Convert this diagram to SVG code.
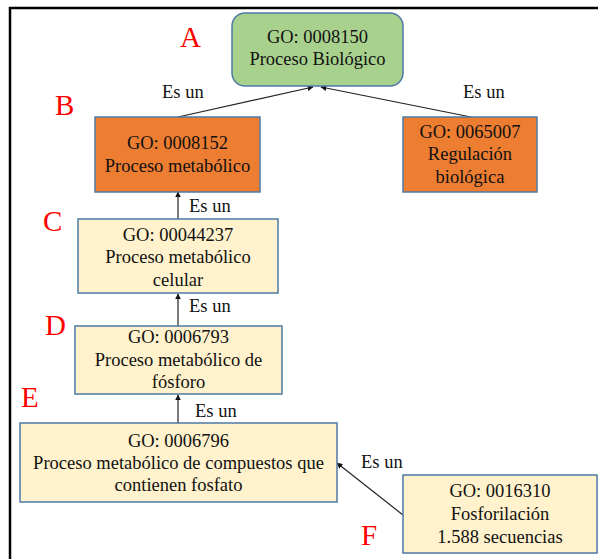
<svg xmlns="http://www.w3.org/2000/svg" width="598" height="559" viewBox="0 0 598 559">
  <style>
    .node { stroke: #4f7aa6; stroke-width: 1.5; }
    .root { fill: #a9d18e; }
    .mid { fill: #ed7d31; }
    .leaf { fill: #fff2cc; }
    text { font-family: 'Liberation Serif', Tinos, 'DejaVu Serif', serif; }
    .t { font-size: 18.5px; fill: #111; text-anchor: middle; }
    .rel { font-size: 18.5px; fill: #111; }
    .tag { font-size: 29px; fill: #ff0000; }
    .edge { stroke: #222; stroke-width: 1.2; fill: none; marker-end: url(#tip); }
  </style>
  <defs>
    <marker id="tip" viewBox="0 0 10 10" refX="9" refY="5" markerWidth="6" markerHeight="6" markerUnits="userSpaceOnUse" orient="auto">
      <path d="M0,0 L10,5 L0,10 z" fill="#111"/>
    </marker>
  </defs>

  <rect width="598" height="559" fill="#ffffff"/>
  <!-- frame -->
  <path d="M10,559 L10,8 L598,8" stroke="#000" stroke-width="2.5" fill="none"/>

  <!-- connectors -->
  <g id="connectors">
    <line class="edge" x1="178" y1="117" x2="313" y2="87"/>
    <line class="edge" x1="471" y1="117" x2="321" y2="87"/>
    <line class="edge" x1="178" y1="219" x2="178" y2="192"/>
    <line class="edge" x1="178" y1="326" x2="178" y2="294"/>
    <line class="edge" x1="178" y1="423" x2="178" y2="395"/>
    <line class="edge" x1="403" y1="515" x2="337" y2="463"/>
    <text class="rel" x="162" y="98">Es un</text>
    <text class="rel" x="463" y="98">Es un</text>
    <text class="rel" x="189" y="212">Es un</text>
    <text class="rel" x="189" y="312">Es un</text>
    <text class="rel" x="195" y="417">Es un</text>
    <text class="rel" x="361" y="468">Es un</text>
  </g>

  <!-- letter tags -->
  <g id="tags">
    <text class="tag" x="180" y="47">A</text>
    <text class="tag" x="55" y="115">B</text>
    <text class="tag" x="43" y="231">C</text>
    <text class="tag" x="45" y="335">D</text>
    <text class="tag" x="21" y="407">E</text>
    <text class="tag" x="361" y="545">F</text>
  </g>

  <g id="go0008150">
    <rect class="node root" x="232" y="13" width="171" height="73" rx="13"/>
    <text class="t" x="317.5" y="43">GO: 0008150</text>
    <text class="t" x="317.5" y="65">Proceso Biológico</text>
  </g>

  <g id="go0008152">
    <rect class="node mid" x="95" y="117" width="165" height="75"/>
    <text class="t" x="177.5" y="149">GO: 0008152</text>
    <text class="t" x="177.5" y="172">Proceso metabólico</text>
  </g>

  <g id="go0065007">
    <rect class="node mid" x="403" y="117" width="134" height="75"/>
    <text class="t" x="470" y="138">GO: 0065007</text>
    <text class="t" x="470" y="160">Regulación</text>
    <text class="t" x="470" y="183">biológica</text>
  </g>

  <g id="go00044237">
    <rect class="node leaf" x="78" y="219" width="200" height="74"/>
    <text class="t" x="178" y="241">GO: 00044237</text>
    <text class="t" x="178" y="263">Proceso metabólico</text>
    <text class="t" x="178" y="286">celular</text>
  </g>

  <g id="go0006793">
    <rect class="node leaf" x="75" y="326" width="207" height="68"/>
    <text class="t" x="178.5" y="343">GO: 0006793</text>
    <text class="t" x="178.5" y="366">Proceso metabólico de</text>
    <text class="t" x="178.5" y="388">fósforo</text>
  </g>

  <g id="go0006796">
    <rect class="node leaf" x="20" y="423" width="317" height="79"/>
    <text class="t" x="178.5" y="447">GO: 0006796</text>
    <text class="t" x="178.5" y="469">Proceso metabólico de compuestos que</text>
    <text class="t" x="178.5" y="491">contienen fosfato</text>
  </g>

  <g id="go0016310">
    <rect class="node leaf" x="403" y="475" width="194" height="78"/>
    <text class="t" x="500" y="497">GO: 0016310</text>
    <text class="t" x="500" y="520">Fosforilación</text>
    <text class="t" x="500" y="543">1.588 secuencias</text>
  </g>
</svg>
